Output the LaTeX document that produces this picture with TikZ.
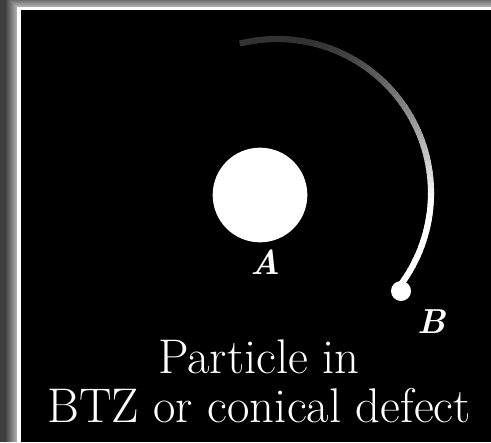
\documentclass[tikz,border=0pt]{standalone}
\usepackage{xcolor}
\usepackage{tikz}
\usetikzlibrary{positioning,calc}

\begin{document}
\begin{tikzpicture}[
    x=0.75pt, y=-0.75pt,
    panel/.style={fill=black},
    disk/.style={
        circle, fill=white,
        minimum size=71pt,
        inner sep=0pt
    },
    enddot/.style={
        circle, fill=white,
        minimum size=15pt,
        inner sep=0pt
    },
    ptlabel/.style={
        text=white,
        font=\fontsize{26}{30}\selectfont\bfseries\itshape
    },
    caption/.style={
        text=white,
        anchor=base,
        inner sep=0pt,
        font=\fontsize{36.5}{42}\selectfont
    },
    orbit/.style={line width=4.6pt, line cap=butt},
]

\useasboundingbox (0,0) rectangle (491,442);

% frame with glow
\fill[black!76] (0,0) rectangle (491,442);
\foreach \i in {12,11,...,1} {
    \pgfmathtruncatemacro\g{24+(12-\i)*4}
    \fill[white!\g!black] (17-\i,7-\i) rectangle (491,442);
}
\fill[white] (17,7) rectangle (491,442);
\fill[panel] (20.5,10.5) rectangle (491,442);

% central body and probe
\node[disk] (bodyA) at (260,195) {};
\node[ptlabel] (labA) at (266,262) {A};
\node[enddot] (dotB) at (401,291) {};
\node[ptlabel] (labB) at (432,322) {B};

% orbit, fading in from the top
\foreach \t in {-104,-102,...,36} {
    \pgfmathsetmacro\yy{193+154*sin(\t+1)}
    \pgfmathtruncatemacro\p{min(100,max(20,20+(\yy-42)*0.506))}
    \draw[orbit, draw=white!\p!black] ({277+154*cos(\t)},{193+154*sin(\t)})
        arc[start angle=\t, end angle=\t+2.4, radius=154];
}

% caption
\node[caption] (cap1) at (259,373) {Particle in};
\node[caption] (cap2) at (259,422) {BTZ or conical defect};

\end{tikzpicture}
\end{document}
